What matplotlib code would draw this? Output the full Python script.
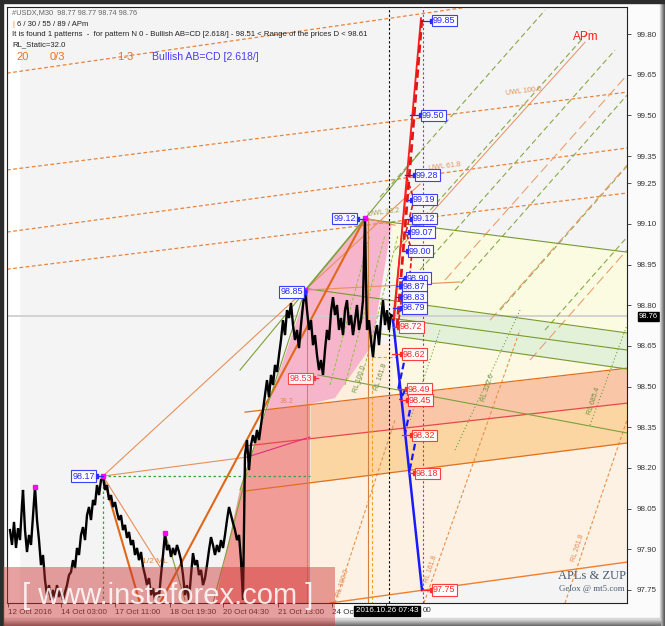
import matplotlib
matplotlib.use('Agg')
import matplotlib.pyplot as plt
from matplotlib.patches import Rectangle, Polygon
import numpy as np

plt.rcParams['font.family'] = ['Liberation Sans', 'DejaVu Sans']

W, H = 665, 626

# ---------------- data ----------------
seg_a_t = [10, 12, 14, 16, 18, 20, 22, 23, 25, 27, 29, 31, 33, 35, 37, 39, 41, 43, 45]
seg_a_p = [97.971, 97.916, 98.001, 97.905, 97.978, 97.934, 98.063, 98.119, 97.971, 97.890,
           97.953, 97.916, 98.026, 98.130, 98.008, 97.934, 97.842, 97.879, 97.787]
seg_b_p = [97.731, 97.768, 97.713, 97.750, 97.720, 97.768, 97.724, 97.750, 97.713, 97.742, 97.768, 97.805]
seg_c_p = [97.816, 97.860, 97.831, 97.905, 97.879, 97.953, 97.982, 97.934, 98.026, 98.056, 98.008,
           98.082, 98.063, 98.137, 98.100, 98.155, 98.167]
seg_d_p = [98.119, 98.137, 98.082, 98.100, 98.056, 98.074, 98.037, 98.008, 98.026, 97.971, 97.990,
           97.942, 97.964, 97.916, 97.934, 97.879, 97.905, 97.860, 97.890, 97.835, 97.805]
seg_e_p = [97.768, 97.794, 97.731, 97.757, 97.713, 97.750, 97.724, 97.805, 97.879, 97.960]
seg_f_p = [97.897, 97.916, 97.872, 97.905, 97.879, 97.916, 97.890, 97.860, 97.805, 97.731,
           97.768, 97.713, 97.805, 97.886, 97.842, 97.860, 97.805, 97.824, 97.768, 97.794,
           97.842, 97.897, 97.945, 97.916, 97.879, 97.916, 97.890, 97.934, 97.905, 97.953,
           98.008, 98.056, 98.026, 97.997, 97.971, 97.934, 97.953, 97.860, 97.713]
seg_g_p = [98.248, 98.303, 98.192, 98.285, 98.321, 98.292, 98.340, 98.303, 98.358, 98.414,
           98.469, 98.524, 98.461, 98.543, 98.506, 98.580, 98.554, 98.616, 98.672, 98.745,
           98.690, 98.782, 98.753, 98.808, 98.727, 98.672, 98.709, 98.642, 98.727, 98.801, 98.856]
seg_h_p = [98.782, 98.709, 98.745, 98.653, 98.690, 98.616, 98.561, 98.598, 98.543, 98.635,
           98.709, 98.672, 98.775, 98.830, 98.764, 98.801, 98.709, 98.753, 98.690, 98.782,
           98.819, 98.727, 98.764, 98.690, 98.745, 98.801, 98.709, 98.745, 98.819, 98.967, 99.122]
seg_i_p = [98.893, 98.709, 98.745, 98.672, 98.609, 98.690, 98.727, 98.653, 98.745, 98.819,
           98.727, 98.782, 98.709, 98.764, 98.760]

price_t = (seg_a_t + list(range(47, 70, 2)) + list(range(71, 104, 2)) + list(range(105, 146, 2))
           + list(range(147, 166, 2)) + list(range(167, 244, 2)) + list(range(245, 306, 2))
           + list(range(307, 364, 2)) + [364, 365] + [366, 367] + list(range(369, 394, 2)))
price_v = seg_a_p + seg_b_p + seg_c_p + seg_d_p + seg_e_p + seg_f_p + seg_g_p + seg_h_p + seg_i_p

last_price = 98.76
ytick_vals = [99.80, 99.65, 99.50, 99.35, 99.25, 99.10, 98.95, 98.80, 98.65, 98.50, 98.35, 98.20, 98.05, 97.90, 97.75]
time_ticks = [8, 61, 115, 170, 223, 278, 332, 386]
time_labels = ['12 Oct 2016', '14 Oct 03:00', '17 Oct 11:00', '18 Oct 19:30', '20 Oct 04:30',
               '21 Oct 13:00', '24 Oct', '']
time_tail = '00'
cursor_time = '2016.10.26 07:43'

# channel lines (bar0, price0, bar1, price1)
T_line = (245, 98.406, 627, 98.568)
R_line = (245, 98.281, 627, 98.439)
L_line = (245, 98.115, 627, 98.292)
B_line = (330, 97.702, 627, 97.853)
GA_line = (365, 99.118, 627, 98.996)
GB_line = (305, 98.862, 627, 98.698)
GC_line = (390, 98.753, 627, 98.635)
GD_line = (380, 98.695, 627, 98.565)

uwl_lines = [(7, 99.656, 627, 99.984), (7, 99.299, 627, 99.586),
             (7, 99.070, 627, 99.380), (7, 98.933, 627, 99.214)]
green_diag = [(380, 99.199, 545, 99.888), (395, 99.004, 590, 99.815), (420, 98.930, 615, 99.741),
              (455, 98.856, 627, 99.575), (500, 98.782, 627, 99.313), (545, 98.709, 627, 99.051)]
orange_diag = [(445, 98.893, 627, 99.649), (490, 98.745, 627, 99.317), (530, 98.598, 627, 99.004)]
apm_line = (400, 99.011, 585, 99.770)
rl_orange = [(335, 97.702, 395, 98.377), (424, 97.702, 520, 98.709), (565, 97.702, 627, 98.377)]
rl_green = [(455, 98.266, 520, 98.782), (590, 98.358, 627, 98.727), (410, 98.377, 440, 98.709)]
pink_fan = [(330, 98.506, 370, 99.059), (345, 98.506, 385, 99.059), (360, 98.506, 398, 99.059)]

orange_thin = [(103, 98.170, 420, 99.247), (103, 98.170, 247, 98.240), (103, 98.170, 160, 97.835),
               (305, 98.856, 460, 98.886), (365, 99.122, 395, 99.095)]
orange_thick = [(160, 97.702, 365, 99.122), (103, 98.170, 140, 97.702)]
olive_lines = [(240, 98.119, 305, 98.856), (305, 98.856, 365, 99.122), (165, 97.960, 185, 97.713),
               (318, 98.543, 627, 98.329), (240, 98.561, 420, 99.365), (213, 97.702, 247, 98.181)]
magenta_lines = [(247, 98.240, 310, 98.314)]

pink_poly = [(267, 98.417), (307, 98.856), (365, 99.122), (392, 99.107), (372, 98.653), (335, 98.458), (310, 98.436)]
salmon_poly = [(267, 98.417), (310, 98.436), (310, 97.702), (215, 97.702), (240, 98.119)]

red_solid = [(394, 98.745), (421, 99.859)]
red_dashed = [(397, 98.720), (422, 99.859)]
red_zig = [(393, 98.745), (407, 99.254)]
red_zig2 = [(398, 98.72), (404, 98.90), (408, 98.83), (412, 99.00), (406, 99.07), (414, 99.19), (406, 99.28)]
blue_solid = [(393, 98.745), (422, 97.75)]
blue_dash_segs = [(406, 98.624, 398, 98.487), (405, 98.487, 400, 98.45),
                  (412, 98.45, 405, 98.325), (417, 98.325, 409, 98.18)]

blue_vals = [99.85, 99.50, 99.28, 99.19, 99.12, 99.07, 99.00, 98.90, 98.87, 98.83, 98.79]
blue_box_x = [432, 421, 415, 412, 412, 410, 408, 406, 402, 402, 402]
blue_anchor = [421, 410, 405, 408, 407, 405, 404, 399, 396, 396, 393]
red_vals = [98.72, 98.62, 98.49, 98.45, 98.32, 98.18, 97.75]
red_box_x = [399, 402, 407, 408, 412, 415, 432]
red_anchor = [393, 392, 398, 400, 402, 408, 422]
left_blue_vals = [99.12, 98.85, 98.17]
left_blue_right = [357, 304, 96]
left_blue_anchor = [365, 305, 103]
pivot_t = [35, 165, 365, 305, 103]
pivot_p = [98.130, 97.960, 99.122, 98.856, 98.170]

# ---------------- figure ----------------
fig = plt.figure(figsize=(W / 100, H / 100), dpi=100, facecolor='#fbfbfb')
ax = fig.add_axes([7 / W, (H - 603) / H, 620 / W, 596 / H])
ax.set_xlim(7, 627)
ax.set_ylim(97.702, 99.900)
ax.set_facecolor('#f4f4f4')
ax.axvspan(7, 19, color='white', zorder=0)


def lv(line, x):
    x0, p0, x1, p1 = line
    return p0 + (p1 - p0) * (np.asarray(x) - x0) / (x1 - x0)


def band(l1, l2, xa, xb, color, z=1):
    xx = np.linspace(xa, xb, 50)
    ax.fill_between(xx, lv(l1, xx), lv(l2, xx), color=color, lw=0, zorder=z)


# fills
xx = np.linspace(310, 627, 50)
ax.fill_between(xx, lv(L_line, xx), np.maximum(lv(B_line, xx), 97.702), color='#fdf1e3', lw=0, zorder=1)
band(R_line, L_line, 310, 627, '#fbd6a2')
band(T_line, R_line, 310, 627, '#f9c6a8')
band(GD_line, T_line, 392, 627, '#fdf8e2')
band(GB_line, GD_line, 392, 627, '#e3f1d8')
band(GA_line, GB_line, 392, 627, '#fafbe0')
xb = np.linspace(310, 392, 20)
ax.fill_between(xb, lv(T_line, xb), 98.66, color='#fdeedd', lw=0, zorder=1)
ax.add_patch(Polygon(pink_poly, closed=True, fc='#f6b5cb', ec='none', zorder=1.2))
ax.add_patch(Polygon(salmon_poly, closed=True, fc='#f29c98', ec='none', zorder=1.2))

ax.axhline(last_price, color='#cfcfcf', lw=1.3, zorder=1.5)


def draw(lines, **kw):
    for x0, p0, x1, p1 in lines:
        ax.plot([x0, x1], [p0, p1], **kw)


draw(uwl_lines, color='#e8843c', lw=0.9, ls=(0, (3, 2)), zorder=2)
draw(green_diag, color='#8aa84a', lw=0.8, ls=(0, (5, 3)), zorder=2)
draw(orange_diag, color='#eba070', lw=0.8, ls=(0, (9, 4)), zorder=2)
draw([apm_line], color='#e89060', lw=0.7, zorder=2)
draw(rl_orange, color='#e8904a', lw=0.8, ls=(0, (3, 2)), zorder=2)
draw(rl_green, color='#70a040', lw=0.8, ls=(0, (1, 2)), zorder=2)
draw(pink_fan, color='#90c040', lw=0.7, ls=(0, (3, 2)), zorder=2)
draw([T_line, L_line], color='#e07020', lw=0.9, zorder=2.5)
draw([R_line], color='#e84848', lw=0.9, zorder=2.5)
draw([B_line], color='#f08030', lw=1.0, zorder=2.5)
draw([GA_line, GB_line, GC_line, GD_line], color='#7a9a30', lw=0.8, zorder=2.5)
draw(orange_thin, color='#e8905a', lw=0.8, zorder=2.5)
draw(orange_thick, color='#e06818', lw=1.5, zorder=2.5)
draw(olive_lines, color='#7f9f3a', lw=0.8, zorder=2.5)
draw(magenta_lines, color='#e0307a', lw=0.8, zorder=2.5)

# verticals / guides
ax.axvline(389, color='black', lw=0.8, ls=(0, (2, 2)), zorder=3)
ax.axvline(423, color='#9b30d0', lw=0.8, ls=(0, (2, 2)), zorder=3)
ax.plot([307, 307], [98.856, 97.702], color='#e08040', lw=0.8, zorder=2.5)
ax.plot([368, 368], [99.122, 97.702], color='#d08040', lw=0.8, zorder=2.5)
ax.plot([372, 372], [98.609, 97.702], color='#f0a020', lw=0.8, ls=(0, (3, 2)), zorder=2.5)
ax.plot([372, 398], [98.609, 98.609], color='#f0a020', lw=0.8, ls=(0, (3, 2)), zorder=2.5)
ax.plot([103, 310], [98.170, 98.170], color='#40a040', lw=0.9, ls=(0, (2, 2)), zorder=2.5)
ax.plot([103, 103], [98.170, 97.702], color='#40a040', lw=0.9, ls=(0, (2, 2)), zorder=2.5)

# price
ax.plot(price_t, price_v, color='black', lw=1.7, zorder=5, solid_joinstyle='miter')
ax.plot(pivot_t, pivot_p, ls='none', marker='s', ms=2.2, color='#ff00ff', zorder=6)

# projection
ax.plot(*zip(*red_solid), color='#ff2020', lw=1.3, zorder=5)
ax.plot(*zip(*red_dashed), color='#e01818', lw=2.0, ls=(0, (3, 1.5)), zorder=5)
ax.plot(*zip(*red_zig), color='#ff2020', lw=1.0, zorder=5)
ax.plot(*zip(*red_zig2), color='#e01818', lw=1.2, ls=(0, (3, 1.5)), zorder=5)
ax.plot(*zip(*blue_solid), color='#1a1aff', lw=1.8, zorder=5)
draw(blue_dash_segs, color='#1a1aff', lw=1.6, ls=(0, (3, 1.5)), zorder=5)


# price labels
def plabel(val, xbox, xanc, col, ha='left'):
    ax.plot([xanc, xbox], [val, val], color=col, lw=0.9, zorder=6)
    ax.plot([xbox], [val], marker='s', ms=2.5, color=col, zorder=7)
    ax.text(xbox + (1 if ha == 'left' else -1), val, f'{val:.2f}', ha=ha, va='center', fontsize=6.5,
            color=col, zorder=8,
            bbox=dict(boxstyle='square,pad=0.15', fc='white', ec=col, lw=0.8, alpha=0.9))


for v, bx, an in zip(blue_vals, blue_box_x, blue_anchor):
    plabel(v, bx, an, '#2a2aff')
for v, bx, an in zip(red_vals, red_box_x, red_anchor):
    plabel(v, bx, an, '#ff2a2a')
for v, bx, an in zip(left_blue_vals, left_blue_right, left_blue_anchor):
    plabel(v, bx, an, '#2a2aff', ha='right')
plabel(98.53, 313, 318, '#ff3a3a', ha='right')

# small chart annotations
ax.text(505, 99.575, 'UWL 100.0', fontsize=5.2, color='#e0905a', rotation=7, zorder=4)
ax.text(428, 99.30, 'UWL 61.8', fontsize=5.2, color='#e0905a', rotation=7, zorder=4)
ax.text(367, 99.13, 'UWL 38.2', fontsize=5.2, color='#a0a050', rotation=7, zorder=4)
ax.text(142, 97.85, '1/2 ML', fontsize=6, color='#e08a50', zorder=4)
ax.text(280, 98.44, '38.2', fontsize=5, color='#e08a50', zorder=4)
ax.text(335, 97.73, 'RL 100.0', fontsize=5, color='#e08a50', rotation=72, zorder=4)
ax.text(423, 97.78, 'RL 161.8', fontsize=5, color='#e08a50', rotation=72, zorder=4)
ax.text(570, 97.86, 'RL 261.8', fontsize=5, color='#e08a50', rotation=72, zorder=4)
ax.text(480, 98.45, 'RL 322.6', fontsize=5, color='#709040', rotation=72, zorder=4)
ax.text(586, 98.40, 'RL 685.4', fontsize=5, color='#709040', rotation=72, zorder=4)
ax.text(352, 98.48, 'RL 100.0', fontsize=5, color='#709040', rotation=72, zorder=4)
ax.text(373, 98.49, 'RL 161.8', fontsize=5, color='#709040', rotation=72, zorder=4)
ax.text(573, 99.79, 'APm', fontsize=8.5, color='#ff2020', va='center', zorder=4)
ax.text(592, 97.80, 'APLs & ZUP', fontsize=9, color='#4a5a70', family='Liberation Serif', ha='center', va='center', zorder=9)
ax.text(592, 97.752, 'Gelox @ mt5.com', fontsize=6.3, color='#4a5a70', family='Liberation Serif', ha='center', va='center', zorder=9)

# axes styling
for s in ax.spines.values():
    s.set_color('#222222')
    s.set_linewidth(0.8)
ax.yaxis.tick_right()
ax.set_yticks(ytick_vals)
ax.set_yticklabels([f'{v:.2f}' for v in ytick_vals])
ax.tick_params(axis='y', length=3, width=0.6, pad=4, labelsize=5.8, colors='#333333')
ax.set_xticks(time_ticks)
ax.set_xticklabels(time_labels, ha='left')
ax.tick_params(axis='x', length=3, width=0.6, pad=1.5, labelsize=5.8, colors='#333333')

ax.text(1.0195, last_price, f'{last_price:.2f}', transform=ax.get_yaxis_transform(), fontsize=5.5,
        color='white', va='center', ha='left', zorder=10, clip_on=False,
        bbox=dict(boxstyle='square,pad=0.12', fc='black', ec='black'))


def fpos(x, y):
    return x / W, 1 - y / H


# top-left info text
fig.text(*fpos(12, 13), '#USDX,M30  98.77 98.77 98.74 98.76', fontsize=5.3, color='#666666', va='center')
fig.text(*fpos(12, 24), '|', fontsize=5.5, color='#e08020', va='center')
fig.text(*fpos(17, 24), '6 / 30 / 55 / 89 / APm', fontsize=5.5, color='#222222', va='center')
fig.text(*fpos(12, 35), 'It is found 1 patterns  -  for pattern N 0 - Bullish AB=CD [2.618/] - 98.51 < Range of the prices D < 98.61',
         fontsize=5.6, color='#222222', va='center')
fig.text(*fpos(12, 45), 'RL_Static=32.0', fontsize=5.6, color='#222222', va='center')
fig.text(*fpos(16, 57), '20', fontsize=8, color='#e8742a', va='center')
fig.text(*fpos(50, 57), '0/3', fontsize=8, color='#e8742a', va='center')
fig.text(*fpos(117, 57), '1-3', fontsize=8, color='#d07a40', va='center')
fig.text(*fpos(152, 57), 'Bullish AB=CD [2.618/]', fontsize=7.6, color='#4a3cf0', va='center')

# cursor time box and the visible tail of the hidden label
fig.text(*fpos(356, 611), cursor_time, fontsize=5.8, color='white', va='center', ha='left', zorder=20,
         bbox=dict(boxstyle='square,pad=0.2', fc='black', ec='black'))
fig.text(*fpos(423, 611), time_tail, fontsize=5.8, color='#333333', va='center', ha='left', zorder=20)

# frame / bevel
fig.patches.append(Rectangle((0, 1 - 3 / H), 1, 3 / H, transform=fig.transFigure, color='#2c2c2c', zorder=30))
fig.patches.append(Rectangle((0, 0), 3 / W, 1, transform=fig.transFigure, color='#2c2c2c', zorder=30))
for i in range(5):
    g = 0.85 - i * 0.12
    fig.patches.append(Rectangle(((660 + i) / W, 0), 1 / W, 1, transform=fig.transFigure,
                                 color=(g, g, g), zorder=29))
for j in range(8):
    g = 0.35 + j * 0.07
    fig.patches.append(Rectangle((0, j / H), 660 / W, 1 / H, transform=fig.transFigure,
                                 color=(g, g, g), zorder=29))

# watermark
fig.patches.append(Rectangle((3 / W, 0), 332 / W, 59 / H, transform=fig.transFigure,
                             fc='#cc3030', alpha=0.45, zorder=40))
fig.text(*fpos(168, 596), '[ www.instaforex.com ]', fontsize=21, color='white', alpha=0.85,
         ha='center', va='center', zorder=41)

fig.savefig('out.png', dpi=100, facecolor=fig.get_facecolor())
